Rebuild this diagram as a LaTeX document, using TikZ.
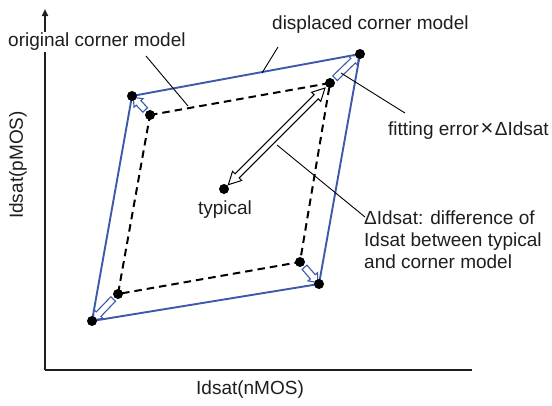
\documentclass[tikz,border=0pt]{standalone}
\usepackage{fontspec}
\setmainfont{Liberation Sans}
\usetikzlibrary{calc,shapes.arrows,arrows.meta}

\definecolor{cblue}{RGB}{62,88,170}
\definecolor{ctext}{RGB}{30,30,30}

\tikzset{
  axisline/.style={line width=1.8pt, draw=ctext},
  displaced/.style={draw=cblue, line width=1.9pt, line join=round},
  original/.style={draw=black, line width=2pt, dash pattern=on 7.5pt off 5pt},
  dot/.style={circle, fill=black, inner sep=0pt, minimum size=10pt},
  leader/.style={draw=black, line width=0.9pt},
  lbl/.style={font=\fontsize{19}{22}\selectfont, text=ctext, inner sep=1pt},
  shiftarrow/.style={single arrow, draw=cblue, fill=white, line width=1.1pt,
    inner xsep=0pt, inner ysep=2.7pt, single arrow head extend=3pt,
    single arrow tip angle=80},
  spanarrow/.style={double arrow, draw=black, fill=white, line width=1pt,
    inner xsep=0pt, inner ysep=2.4pt, double arrow head extend=3.6pt,
    double arrow tip angle=55},
}

% block arrow node #2 with style #1 running from coordinate #3 to #4
\newcommand\blockarrow[4]{%
  \path let \p1=($(#4)-(#3)$) in
    node[#1, minimum height={veclen(\x1,\y1)}, rotate={atan2(\y1,\x1)}]
      (#2) at ($(#3)!0.5!(#4)$) {};}

\begin{document}
\begin{tikzpicture}[x=1pt,y=-1pt]
  \useasboundingbox (0,0) rectangle (552,405);

  % axes
  \coordinate (origin) at (45,370);
  \coordinate (ytop) at (45,9);
  \coordinate (xend) at (472,370);
  \draw[axisline, -{Triangle[length=7pt,width=6pt]}] (origin) -- (ytop);
  \draw[axisline] (origin) -- (xend);

  % corners of the original (dashed) and displaced (blue) models
  \coordinate (otl) at (150,115);
  \coordinate (otr) at (330,83);
  \coordinate (obr) at (300,262);
  \coordinate (obl) at (118,294);
  \coordinate (dtl) at (132,96);
  \coordinate (dtr) at (360,54);
  \coordinate (dbr) at (319,284);
  \coordinate (dbl) at (92,321);

  \draw[original] (otl) -- (otr) -- (obr) -- (obl) -- cycle;
  \draw[displaced] (dtl) -- (dtr) -- (dbr) -- (dbl) -- cycle;

  % shift from each original corner to its displaced corner
  \foreach \c in {tl,tr,br,bl}{
    \blockarrow{shiftarrow}{shift\c}{$(o\c)!5pt!(d\c)$}{$(d\c)!4pt!(o\c)$}
  }

  % corner points
  \foreach \c in {otl,otr,obr,obl,dtl,dtr,dbr,dbl}{
    \node[dot] (p\c) at (\c) {};
  }

  % typical point and its distance to the corner
  \node[dot] (typ) at (224,189) {};
  \blockarrow{spanarrow}{span}{$(typ)!6pt!(otr)$}{$(otr)!7pt!(typ)$}

  % labels
  \node[lbl] (typlbl) at (225,210) {typical};
  \node[lbl, anchor=west, fill=white] (origlbl) at (7,42) {original corner model};
  \node[lbl, anchor=west] (displbl) at (271,25) {displaced corner model};
  \node[lbl, anchor=west] (fitlbl) at (387,131)
    {fitting error\kern1.5pt{\fontsize{22}{22}\selectfont ×}\kern1.5ptΔIdsat};
  \node[lbl, anchor=north west, align=left, font=\fontsize{19}{22}\selectfont]
    (difflbl) at (363,210)
    {ΔIdsat: difference of\\Idsat between typical\\and corner model};
  \node[lbl, rotate=90] (ylbl) at (18,165) {Idsat(pMOS)};
  \node[lbl] (xlbl) at (250,390) {Idsat(nMOS)};

  % leader lines
  \coordinate (origend) at (188,106);
  \coordinate (origstart) at (146,56);
  \draw[leader] (origstart) -- (origend);
  \coordinate (dispstart) at (278,47);
  \coordinate (dispend) at (262,73);
  \draw[leader] (dispstart) -- (dispend);
  \coordinate (fitstart) at (341,73);
  \coordinate (fitend) at (405,113);
  \draw[leader] (fitstart) -- (fitend);
  \coordinate (diffstart) at (277,145);
  \coordinate (diffend) at (365,217);
  \draw[leader] (diffstart) -- (diffend);
\end{tikzpicture}
\end{document}
